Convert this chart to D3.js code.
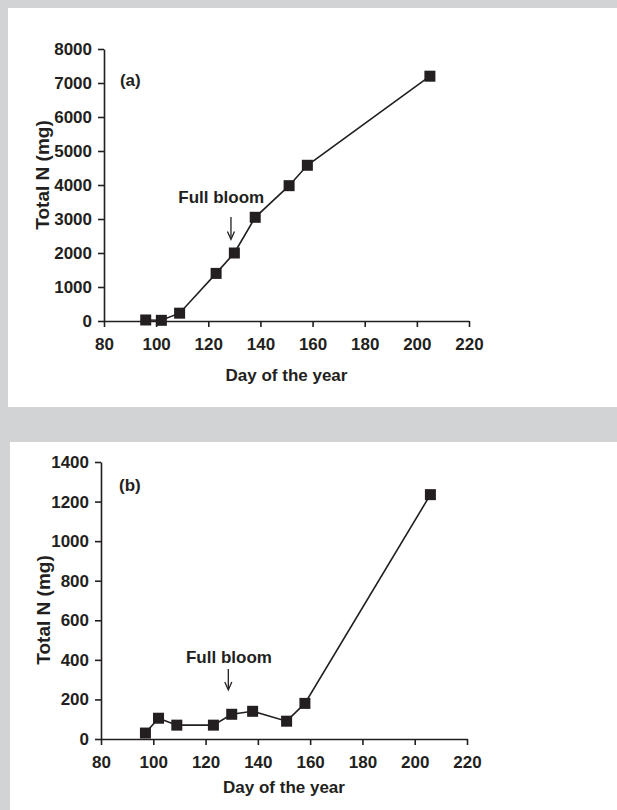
<!DOCTYPE html>
<html>
<head>
<meta charset="utf-8">
<script src="https://cdn.jsdelivr.net/npm/d3@7/dist/d3.min.js"></script>
<style>
  html, body { margin: 0; padding: 0; background: #d1d3d4; }
  svg { display: block; }
  text { font-family: "Liberation Sans", Arial, sans-serif; font-weight: bold; fill: #231f20; }
</style>
</head>
<body>
<div id="chart"></div>
<script>
// Panel (a) – total N vs day of year
var daysA   = [96, 102, 109, 123, 130, 138, 151, 158, 205];
var totalNA = [30, 20, 230, 1400, 2000, 3050, 3980, 4580, 7200];
// Panel (b)
var daysB   = [97, 102, 109, 123, 130, 138, 151, 158, 206];
var totalNB = [30, 105, 70, 70, 125, 140, 90, 180, 1235];

var xTicks  = [80, 100, 120, 140, 160, 180, 200, 220];
var yTicksA = [0, 1000, 2000, 3000, 4000, 5000, 6000, 7000, 8000];
var yTicksB = [0, 200, 400, 600, 800, 1000, 1200, 1400];

var fullBloomDay = 128.7;
var ink = '#231f20';

var W = 617, H = 810;
var svg = d3.select('#chart').append('svg')
  .attr('width', W).attr('height', H);

svg.append('rect').attr('width', W).attr('height', H).attr('fill', '#d1d3d4');

// panel boxes
svg.append('rect').attr('x', 8).attr('y', 8).attr('width', W - 8).attr('height', 399).attr('fill', '#fff');
svg.append('rect').attr('x', 10).attr('y', 442).attr('width', W - 10).attr('height', H - 442).attr('fill', '#fff');

function drawPanel(p) {
  var x = d3.scaleLinear().domain([80, 220]).range([p.left, p.right]);
  var y = d3.scaleLinear().domain([0, p.yMax]).range([p.bottom, p.top]);
  var g = svg.append('g');

  var xAxis = g.append('g')
    .attr('transform', 'translate(0,' + p.bottom + ')')
    .call(d3.axisBottom(x).tickValues(xTicks).tickFormat(d3.format('d'))
      .tickSize(6).tickSizeOuter(0).tickPadding(7));
  var yAxis = g.append('g')
    .attr('transform', 'translate(' + p.left + ',0)')
    .call(d3.axisLeft(y).tickValues(p.yTicks).tickFormat(d3.format('d'))
      .tickSize(6).tickSizeOuter(0).tickPadding(6));

  [xAxis, yAxis].forEach(function(a) {
    a.select('.domain').attr('stroke', ink).attr('stroke-width', 1.6);
    a.selectAll('.tick line').attr('stroke', ink).attr('stroke-width', 1.6);
    a.selectAll('.tick text')
      .attr('fill', ink)
      .style('font-size', '17px')
      .style('font-family', '"Liberation Sans", Arial, sans-serif')
      .style('font-weight', 'bold');
  });
  xAxis.selectAll('.tick text').attr('dy', '0.95em');

  // axis titles
  g.append('text')
    .attr('x', (p.left + p.right) / 2)
    .attr('y', p.xTitleY)
    .attr('text-anchor', 'middle')
    .style('font-size', '17px')
    .text('Day of the year');

  g.append('text')
    .attr('transform', 'translate(' + p.yTitleX + ',' + p.yTitleCy + ') rotate(-90)')
    .attr('text-anchor', 'middle')
    .style('font-size', '19px')
    .text('Total N (mg)');

  // series line
  var pts = p.days.map(function(d, i) { return [d, p.values[i]]; });
  g.append('path')
    .datum(pts)
    .attr('fill', 'none')
    .attr('stroke', ink)
    .attr('stroke-width', 1.6)
    .attr('d', d3.line().x(function(d) { return x(d[0]); }).y(function(d) { return y(d[1]); }));

  var s = 11;
  g.selectAll('.pt').data(pts).enter().append('rect')
    .attr('class', 'pt')
    .attr('x', function(d) { return x(d[0]) - s / 2; })
    .attr('y', function(d) { return y(d[1]) - s / 2; })
    .attr('width', s).attr('height', s)
    .attr('fill', ink);

  // panel label
  g.append('text')
    .attr('x', x(p.labelDay)).attr('y', y(p.labelVal))
    .style('font-size', '17px')
    .text(p.label);

  // full bloom annotation
  g.append('text')
    .attr('x', x(p.bloomTextDay)).attr('y', y(p.bloomTextVal))
    .style('font-size', '17px')
    .text('Full bloom');

  var ax = x(fullBloomDay), y1 = y(p.arrowTop), y2 = y(p.arrowBottom);
  g.append('line')
    .attr('x1', ax).attr('x2', ax).attr('y1', y1).attr('y2', y2 - 2)
    .attr('stroke', ink).attr('stroke-width', 1.3);
  g.append('path')
    .attr('d', 'M' + (ax - 3.5) + ',' + (y2 - 8) + 'L' + ax + ',' + y2 + 'L' + (ax + 3.5) + ',' + (y2 - 8))
    .attr('fill', 'none').attr('stroke', ink).attr('stroke-width', 1.3);
}

drawPanel({
  days: daysA, values: totalNA, yMax: 8000, yTicks: yTicksA,
  left: 104, right: 469, top: 49, bottom: 321,
  xTitleY: 381, yTitleX: 49, yTitleCy: 175,
  label: '(a)', labelDay: 86.1, labelVal: 6900,
  bloomTextDay: 108.5, bloomTextVal: 3460,
  arrowTop: 3060, arrowBottom: 2400
});

drawPanel({
  days: daysB, values: totalNB, yMax: 1400, yTicks: yTicksB,
  left: 101, right: 467, top: 462, bottom: 739,
  xTitleY: 793, yTitleX: 50, yTitleCy: 610,
  label: '(b)', labelDay: 86.9, labelVal: 1255,
  bloomTextDay: 112.5, bloomTextVal: 385,
  arrowTop: 354, arrowBottom: 248
});
</script>
</body>
</html>
